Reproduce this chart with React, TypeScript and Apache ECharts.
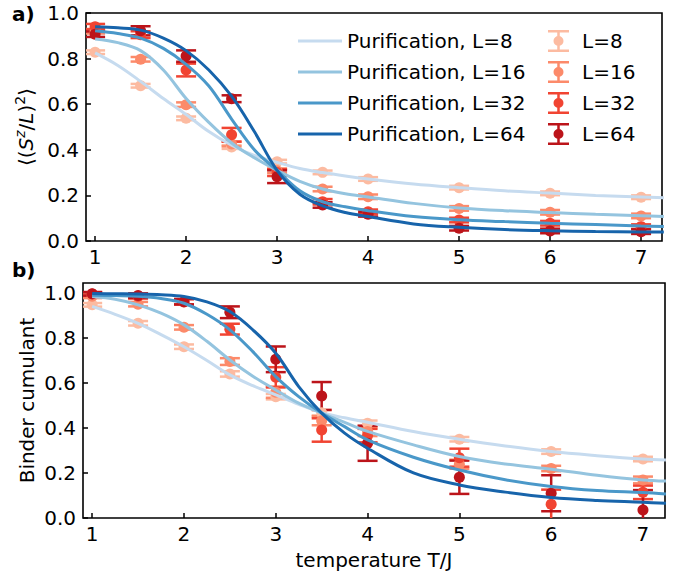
import React, { useEffect, useRef } from "react";
import * as echarts from "echarts";

const FONT = "DejaVu Sans";

// x positions
const temps = [1, 1.5, 2, 2.5, 3, 3.5, 4, 5, 6, 7];
const lineT = [1, 1.25, 1.5, 1.75, 2, 2.25, 2.5, 2.75, 3, 3.25, 3.5, 3.75, 4, 4.5, 5, 5.5, 6, 6.5, 7, 7.25];
const xTicks = [1, 2, 3, 4, 5, 6, 7];
const yTicks = [0, 0.2, 0.4, 0.6, 0.8, 1.0];

const sizes = ["8", "16", "32", "64"];
const blues = ["#c6dbef", "#94c4df", "#4a98c9", "#1764ab"];
const reds = ["#fcbba1", "#fc8a6a", "#f14432", "#bc141a"];

// panel a) purification curves <(S^z/L)^2>
const magLine8 = [0.825, 0.77, 0.70, 0.625, 0.555, 0.48, 0.42, 0.375, 0.345, 0.318, 0.30, 0.285, 0.272, 0.25, 0.234, 0.22, 0.21, 0.2, 0.193, 0.19];
const magLine16 = [0.886, 0.87, 0.835, 0.75, 0.625, 0.52, 0.43, 0.365, 0.31, 0.262, 0.228, 0.207, 0.193, 0.165, 0.145, 0.133, 0.125, 0.117, 0.111, 0.108];
const magLine32 = [0.922, 0.91, 0.89, 0.845, 0.775, 0.68, 0.535, 0.40, 0.31, 0.22, 0.172, 0.15, 0.133, 0.107, 0.093, 0.085, 0.078, 0.072, 0.066, 0.064];
const magLine64 = [0.94, 0.935, 0.925, 0.89, 0.835, 0.75, 0.635, 0.48, 0.31, 0.205, 0.154, 0.125, 0.107, 0.075, 0.06, 0.05, 0.045, 0.042, 0.04, 0.039];

// panel a) data points with errors
const magPts8 = [0.828, 0.681, 0.538, 0.412, 0.348, 0.301, 0.272, 0.234, 0.209, 0.192];
const magPts16 = [0.92, 0.797, 0.598, 0.425, 0.308, 0.228, 0.194, 0.143, 0.126, 0.110];
const magPts32 = [0.94, 0.905, 0.75, 0.466, 0.30, 0.172, 0.128, 0.092, 0.078, 0.063];
const magPts64 = [0.907, 0.922, 0.811, 0.624, 0.282, 0.158, 0.117, 0.056, 0.044, 0.041];
const magErr8 = [0.008, 0.008, 0.008, 0.008, 0.008, 0.008, 0.008, 0.008, 0.008, 0.008];
const magErr16 = [0.01, 0.01, 0.01, 0.01, 0.01, 0.01, 0.01, 0.01, 0.01, 0.01];
const magErr32 = [0.012, 0.015, 0.028, 0.03, 0.015, 0.012, 0.01, 0.01, 0.01, 0.01];
const magErr64 = [0.012, 0.02, 0.025, 0.015, 0.028, 0.012, 0.01, 0.01, 0.01, 0.01];

// panel b) purification curves, Binder cumulant
const binLine8 = [0.94, 0.905, 0.865, 0.815, 0.761, 0.70, 0.636, 0.588, 0.547, 0.505, 0.468, 0.445, 0.425, 0.384, 0.35, 0.32, 0.295, 0.277, 0.262, 0.258];
const binLine16 = [0.984, 0.972, 0.947, 0.91, 0.858, 0.785, 0.702, 0.63, 0.569, 0.51, 0.466, 0.425, 0.385, 0.325, 0.273, 0.24, 0.217, 0.19, 0.169, 0.164];
const binLine32 = [0.99, 0.988, 0.985, 0.975, 0.954, 0.905, 0.836, 0.739, 0.628, 0.539, 0.466, 0.406, 0.347, 0.27, 0.213, 0.17, 0.14, 0.122, 0.113, 0.107];
const binLine64 = [0.997, 0.996, 0.995, 0.992, 0.984, 0.96, 0.917, 0.836, 0.732, 0.584, 0.466, 0.377, 0.31, 0.2, 0.147, 0.115, 0.091, 0.078, 0.07, 0.065];

// panel b) data points with errors
const binPts8 = [0.947, 0.865, 0.761, 0.64, 0.539, 0.468, 0.421, 0.35, 0.295, 0.262];
const binPts16 = [0.985, 0.95, 0.847, 0.695, 0.559, 0.432, 0.384, 0.239, 0.22, 0.169];
const binPts32 = [0.995, 0.985, 0.96, 0.839, 0.625, 0.391, 0.366, 0.268, 0.061, 0.114];
const binPts64 = [0.996, 0.988, 0.961, 0.914, 0.705, 0.542, 0.332, 0.181, 0.11, 0.036];
const binErr8 = [0.008, 0.01, 0.01, 0.012, 0.012, 0.012, 0.012, 0.01, 0.01, 0.01];
const binErr16 = [0.008, 0.01, 0.01, 0.015, 0.025, 0.02, 0.02, 0.02, 0.012, 0.015];
const binErr32 = [0.008, 0.01, 0.012, 0.024, 0.045, 0.052, 0.03, 0.04, 0.065, 0.03];
const binErr64 = [0.008, 0.01, 0.012, 0.026, 0.057, 0.062, 0.078, 0.074, 0.08, 0.088];

const magLines = [magLine8, magLine16, magLine32, magLine64];
const binLines = [binLine8, binLine16, binLine32, binLine64];
const magPts = [magPts8, magPts16, magPts32, magPts64];
const magErrs = [magErr8, magErr16, magErr32, magErr64];
const binPts = [binPts8, binPts16, binPts32, binPts64];
const binErrs = [binErr8, binErr16, binErr32, binErr64];

const ERR_ICON =
  "path://M0,0H21V2.5H0Z M0,19.5H21V22H0Z M9.25,0H11.75V22H9.25Z M5.5,11A5,5 0 1,1 15.5,11A5,5 0 1,1 5.5,11Z";

function xAxisCfg(gridIndex: number, max: number) {
  return {
    type: "value",
    gridIndex,
    min: 0.9,
    max,
    axisLine: { show: false },
    splitLine: { show: false },
    axisTick: { show: true, inside: true, length: 5, lineStyle: { color: "#000", width: 1.5 }, customValues: xTicks },
    axisLabel: { customValues: xTicks, fontSize: 20, fontFamily: FONT, color: "#000", margin: 6 },
  };
}

function yAxisCfg(gridIndex: number, max: number, name: string, nameGap: number, rich?: any) {
  return {
    type: "value",
    gridIndex,
    min: 0,
    max,
    name,
    nameLocation: "middle",
    nameGap,
    nameMoveOverlap: false,
    nameTextStyle: { fontSize: 20, fontFamily: FONT, color: "#000", rich },
    axisLine: { show: false },
    splitLine: { show: false },
    axisTick: { show: true, inside: true, length: 5, lineStyle: { color: "#000", width: 1.5 }, customValues: yTicks },
    axisLabel: {
      customValues: yTicks,
      fontSize: 20,
      fontFamily: FONT,
      color: "#000",
      margin: 7,
      formatter: (v: number) => v.toFixed(1),
    },
  };
}

function errSeries(idx: number, name: string, ys: number[], es: number[], color: string, ymax: number) {
  return {
    type: "custom",
    name: name + " error",
    xAxisIndex: idx,
    yAxisIndex: idx,
    silent: true,
    clip: true,
    data: temps.map((t, i) => [t, ys[i], es[i]]),
    encode: { x: 0, y: 1 },
    renderItem: (params: any, api: any) => {
      const x = api.value(0);
      const y = api.value(1);
      const e = api.value(2);
      const hiV = Math.min(y + e, ymax);
      const loV = Math.max(y - e, 0);
      const top = api.coord([x, hiV]);
      const bot = api.coord([x, loV]);
      const st = { stroke: color, lineWidth: 2.5 };
      const children: any[] = [
        { type: "line", shape: { x1: top[0], y1: top[1], x2: bot[0], y2: bot[1] }, style: st },
      ];
      if (y + e <= ymax)
        children.push({ type: "line", shape: { x1: top[0] - 10, y1: top[1], x2: top[0] + 10, y2: top[1] }, style: st });
      if (y - e >= 0)
        children.push({ type: "line", shape: { x1: bot[0] - 10, y1: bot[1], x2: bot[0] + 10, y2: bot[1] }, style: st });
      return { type: "group", children };
    },
  };
}

function ptSeries(idx: number, name: string, ys: number[], color: string) {
  return {
    type: "scatter",
    name,
    xAxisIndex: idx,
    yAxisIndex: idx,
    symbol: "circle",
    symbolSize: 11,
    itemStyle: { color, opacity: 1 },
    emphasis: { disabled: true },
    data: temps.map((t, i) => [t, ys[i]]),
  };
}

function lineSeries(idx: number, name: string, ys: number[], color: string) {
  return {
    type: "line",
    name,
    xAxisIndex: idx,
    yAxisIndex: idx,
    smooth: 0.35,
    showSymbol: false,
    symbol: "none",
    lineStyle: { color, width: 3 },
    itemStyle: { color },
    emphasis: { disabled: true },
    data: lineT.map((t, i) => [t, ys[i]]),
  };
}

export default function App() {
  const ref = useRef<HTMLDivElement>(null);
  useEffect(() => {
    if (!ref.current) return;
    const chart = echarts.init(ref.current, undefined, { renderer: "svg" });
    const lineNames = sizes.map((s) => "Purification, L=" + s);
    const ptNames = sizes.map((s) => "L=" + s);
    const series: any[] = [];
    sizes.forEach((s, k) => series.push(lineSeries(0, lineNames[k], magLines[k], blues[k])));
    sizes.forEach((s, k) => series.push(lineSeries(1, lineNames[k], binLines[k], blues[k])));
    sizes.forEach((s, k) => {
      series.push(errSeries(0, ptNames[k], magPts[k], magErrs[k], reds[k], 1.0));
      series.push(ptSeries(0, ptNames[k], magPts[k], reds[k]));
    });
    sizes.forEach((s, k) => {
      series.push(errSeries(1, ptNames[k], binPts[k], binErrs[k], reds[k], 1.044));
      series.push(ptSeries(1, ptNames[k], binPts[k], reds[k]));
    });

    const richY = {
      i: { fontStyle: "italic", fontSize: 20, fontFamily: FONT, color: "#000", lineHeight: 26 },
      s: { fontStyle: "italic", fontSize: 14, fontFamily: FONT, color: "#000", lineHeight: 14, verticalAlign: "top" },
      t: { fontSize: 14, fontFamily: FONT, color: "#000", lineHeight: 14, verticalAlign: "top" },
      n: { fontSize: 20, fontFamily: FONT, color: "#000", lineHeight: 26 },
    };
    const yNameA = "{n|⟨(}{i|S}{s|z}{n|/}{i|L}{n|)}{t|2}{n|⟩}";

    const legendText = { fontSize: 20, fontFamily: FONT, color: "#000", lineHeight: 22 };

    chart.setOption({
      animation: false,
      backgroundColor: "#fff",
      textStyle: { fontFamily: FONT },
      grid: [
        { left: 86, top: 13, width: 576, height: 228, show: true, borderColor: "#000", borderWidth: 1.6, backgroundColor: "transparent", containLabel: false },
        { left: 83, top: 283, width: 582, height: 235, show: true, borderColor: "#000", borderWidth: 1.6, backgroundColor: "transparent", containLabel: false },
      ],
      xAxis: [
        xAxisCfg(0, 7.23),
        { ...xAxisCfg(1, 7.24), name: "temperature T/J", nameLocation: "middle", nameGap: 32, nameTextStyle: { fontSize: 20, fontFamily: FONT, color: "#000" } },
      ],
      yAxis: [yAxisCfg(0, 1.0, yNameA, 47, richY), yAxisCfg(1, 1.044, "Binder cumulant", 46)],
      legend: [
        {
          left: 293,
          top: 25,
          orient: "vertical",
          icon: "rect",
          itemWidth: 44,
          itemHeight: 3,
          itemGap: 9,
          selectedMode: false,
          data: lineNames,
          textStyle: legendText,
        },
        {
          left: 543,
          top: 25,
          orient: "vertical",
          icon: ERR_ICON,
          itemWidth: 37,
          itemHeight: 22,
          itemGap: 9,
          selectedMode: false,
          data: ptNames,
          textStyle: legendText,
        },
      ],
      graphic: [
        { type: "text", left: 12, top: 4, style: { text: "a)", font: "bold 20px 'DejaVu Sans'", fill: "#000" } },
        { type: "text", left: 12, top: 260, style: { text: "b)", font: "bold 20px 'DejaVu Sans'", fill: "#000" } },
      ],
      series,
    });
    return () => chart.dispose();
  }, []);
  return (
    <div
      ref={ref}
      style={{ position: "absolute", left: 0, top: 0, width: 679, height: 574, background: "#fff" }}
    />
  );
}
